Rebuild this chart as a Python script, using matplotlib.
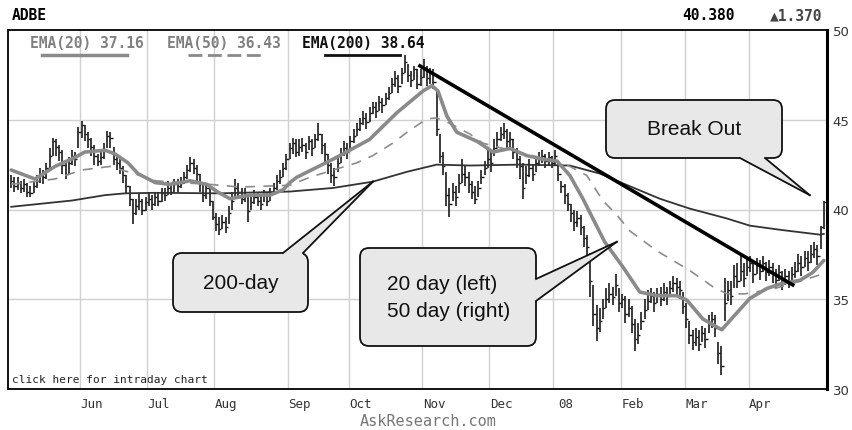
import matplotlib
matplotlib.use("Agg")
import matplotlib.pyplot as plt
from matplotlib.lines import Line2D
from matplotlib.patches import FancyBboxPatch, Polygon
from matplotlib.transforms import IdentityTransform

# ADBE daily bars, May 2007 - Apr 2008, one value per trading day
hi = [41.9, 41.8, 41.8, 41.6, 41.7, 41.5, 41.3, 41.6, 41.9, 42.3,
      42.2, 42.6, 43.4, 44.0, 43.9, 43.6, 43.3, 42.6, 42.9, 43.3,
      43.2, 44.6, 44.95, 44.7, 44.3, 44.0, 43.6, 43.1, 43.3, 43.7,
      44.4, 44.3, 43.5, 43.0, 42.8, 42.4, 41.9, 41.3, 40.6, 40.6,
      40.9, 40.6, 40.7, 41.0, 40.8, 41.0, 41.0, 41.2, 41.2, 41.6,
      41.4, 41.7, 41.7, 41.8, 42.1, 42.5, 42.9, 42.8, 42.5, 42.0,
      41.5, 41.5, 41.3, 40.5, 39.8, 39.6, 39.7, 39.6, 40.2, 41.0,
      41.7, 41.5, 41.2, 41.2, 40.7, 40.8, 41.1, 41.0, 40.8, 41.1,
      41.0, 41.2, 41.5, 41.9, 42.2, 42.6, 43.1, 43.7, 44.0, 43.9,
      43.9, 44.0, 43.7, 44.1, 43.9, 44.2, 44.8, 44.2, 43.7, 43.1,
      42.6, 42.3, 42.9, 43.4, 43.8, 43.7, 44.1, 44.5, 44.8, 45.1,
      45.5, 45.4, 45.7, 46.0, 46.0, 46.3, 46.2, 46.5, 46.8, 47.3,
      47.7, 47.5, 47.9, 48.6, 48.1, 47.7, 48.0, 47.8, 47.8, 48.4,
      48.0, 47.9, 47.8, 46.6, 44.2, 43.2, 42.1, 41.2, 41.5, 41.3,
      42.0, 42.8, 42.4, 42.1, 41.6, 41.3, 41.6, 42.2, 42.7, 43.3,
      43.2, 43.9, 44.3, 44.6, 44.8, 44.5, 44.3, 43.9, 43.4, 43.0,
      42.6, 42.4, 42.8, 42.5, 43.0, 43.2, 43.3, 43.1, 43.2, 43.0,
      43.3, 42.6, 41.6, 41.4, 40.9, 40.3, 40.0, 39.9, 39.7, 39.1,
      38.6, 37.6, 35.8, 34.7, 34.5, 35.0, 35.6, 35.9, 35.7, 36.4,
      35.6, 35.3, 35.2, 35.0, 34.6, 33.9, 33.7, 34.3, 35.0, 35.5,
      35.6, 35.4, 35.6, 35.7, 35.9, 35.7, 36.0, 36.3, 36.2, 36.0,
      35.4, 34.8, 33.8, 33.3, 33.4, 33.3, 33.5, 33.4, 34.1, 34.3,
      34.1, 32.6, 32.4, 36.2, 36.0, 36.0, 36.9, 37.0, 37.4, 37.0,
      37.3, 37.4, 37.2, 37.3, 37.2, 37.4, 37.1, 37.2, 37.0, 36.7,
      36.9, 36.6, 36.7, 36.6, 36.8, 37.1, 37.5, 37.4, 37.7, 37.7,
      38.0, 38.2, 38.0, 39.1, 40.5]
lo = [41.2, 41.0, 41.1, 40.9, 41.0, 40.7, 40.7, 40.9, 41.2, 41.5,
      41.4, 41.7, 42.3, 43.0, 43.0, 42.7, 42.0, 41.7, 42.0, 42.5,
      42.4, 43.4, 44.0, 43.8, 43.4, 43.0, 42.5, 42.4, 42.5, 42.8,
      43.4, 43.4, 42.5, 42.2, 42.0, 41.5, 40.9, 40.2, 39.2, 39.7,
      40.0, 39.7, 39.9, 40.2, 40.0, 40.2, 40.2, 40.4, 40.5, 40.8,
      40.8, 41.0, 41.0, 41.2, 41.4, 41.7, 42.1, 42.0, 41.6, 41.0,
      40.4, 40.6, 40.2, 39.4, 38.8, 38.6, 38.9, 38.7, 39.2, 40.0,
      40.6, 40.6, 40.3, 40.4, 39.3, 40.0, 40.3, 40.2, 40.0, 40.4,
      40.2, 40.5, 40.9, 41.1, 41.4, 41.8, 42.2, 42.8, 43.1, 42.9,
      43.0, 43.2, 42.8, 43.3, 43.0, 43.4, 43.8, 43.1, 42.6, 42.0,
      41.5, 41.3, 42.1, 42.6, 43.0, 42.8, 43.3, 43.7, 44.1, 44.4,
      44.7, 44.5, 44.9, 45.3, 45.1, 45.5, 45.4, 45.8, 46.1, 46.5,
      46.8, 46.5, 47.0, 47.6, 47.1, 46.8, 47.2, 46.7, 46.9, 47.3,
      46.9, 47.0, 46.7, 44.1, 42.6, 41.9, 40.2, 39.6, 40.5, 40.2,
      40.9, 41.5, 41.3, 40.9, 40.6, 40.3, 40.7, 41.4, 41.9, 42.3,
      42.1, 43.0, 43.4, 43.8, 43.9, 43.3, 43.5, 42.8, 42.3, 41.7,
      40.6, 41.4, 41.8, 41.6, 42.1, 42.4, 42.6, 42.3, 42.5, 42.3,
      42.5, 41.6, 40.9, 40.3, 39.9, 39.3, 38.8, 39.0, 38.6, 37.9,
      37.4, 35.1, 33.5, 32.7, 33.2, 33.9, 34.5, 34.8, 34.7, 35.2,
      34.3, 34.5, 33.7, 34.0, 33.1, 32.1, 32.5, 33.3, 33.9, 34.4,
      34.8, 34.3, 34.8, 34.6, 34.9, 34.7, 35.1, 35.4, 35.2, 35.0,
      34.2, 33.4, 32.5, 32.2, 32.4, 32.1, 32.6, 32.3, 33.1, 33.4,
      32.9, 31.4, 30.8, 33.8, 34.9, 34.7, 35.6, 35.6, 36.0, 35.7,
      36.3, 36.5, 35.9, 36.4, 36.1, 36.5, 36.0, 36.3, 35.9, 35.6,
      36.0, 35.5, 35.8, 35.6, 35.9, 36.2, 36.5, 36.3, 36.8, 36.6,
      37.0, 37.3, 36.9, 37.8, 38.9]
cl = [41.6, 41.3, 41.5, 41.2, 41.4, 41.0, 40.9, 41.3, 41.6, 42.0,
      41.8, 42.3, 43.0, 43.8, 43.5, 43.2, 42.5, 42.0, 42.6, 43.0,
      42.8, 44.3, 44.7, 44.2, 43.9, 43.5, 43.0, 42.7, 42.9, 43.3,
      44.1, 44.0, 42.8, 42.6, 42.3, 41.9, 41.3, 40.6, 39.8, 40.2,
      40.5, 40.0, 40.4, 40.6, 40.3, 40.7, 40.5, 40.9, 40.8, 41.2,
      41.0, 41.4, 41.3, 41.5, 41.8, 42.2, 42.6, 42.3, 42.0, 41.4,
      40.8, 41.2, 40.5, 39.6, 39.2, 38.9, 39.3, 39.0, 39.8, 40.5,
      41.2, 41.0, 40.6, 40.8, 39.9, 40.4, 40.7, 40.5, 40.3, 40.8,
      40.5, 40.9, 41.2, 41.6, 41.8, 42.3, 42.8, 43.4, 43.7, 43.2,
      43.5, 43.6, 43.2, 43.8, 43.4, 43.9, 44.2, 43.6, 43.1, 42.5,
      41.9, 41.8, 42.6, 43.1, 43.4, 43.2, 43.8, 44.1, 44.5, 44.8,
      45.1, 44.9, 45.4, 45.7, 45.5, 46.0, 45.8, 46.2, 46.5, 47.0,
      47.3, 46.9, 47.6, 48.2, 47.5, 47.2, 47.8, 47.0, 47.4, 47.9,
      47.3, 47.6, 47.1, 44.5, 43.0, 42.4, 40.8, 40.3, 41.0, 40.7,
      41.5, 42.0, 41.8, 41.4, 41.0, 40.6, 41.2, 41.8, 42.3, 42.8,
      42.6, 43.4, 43.9, 44.2, 44.4, 43.8, 43.9, 43.2, 42.8, 42.4,
      41.2, 41.9, 42.3, 42.0, 42.6, 42.8, 43.0, 42.7, 42.9, 42.6,
      43.0, 42.0, 41.3, 40.8, 40.3, 39.8, 39.3, 39.5, 39.0, 38.4,
      37.9, 36.0, 34.2, 33.4, 33.8, 34.5, 35.0, 35.3, 35.1, 35.8,
      34.8, 35.0, 34.2, 34.5, 33.6, 32.8, 33.0, 33.8, 34.4, 34.9,
      35.2, 34.8, 35.3, 35.0, 35.4, 35.2, 35.6, 35.9, 35.7, 35.5,
      34.6, 33.9, 33.0, 32.6, 32.9, 32.5, 33.1, 32.8, 33.6, 33.9,
      33.4, 32.0, 31.3, 34.8, 35.5, 35.2, 36.3, 36.0, 36.6, 36.2,
      36.8, 37.0, 36.4, 36.9, 36.6, 37.0, 36.5, 36.8, 36.4, 36.1,
      36.5, 35.9, 36.3, 36.0, 36.4, 36.6, 37.0, 36.8, 37.3, 37.1,
      37.5, 37.8, 37.4, 39.0, 40.4]
assert len(hi) == len(lo) == len(cl)
assert all(h >= c >= l for h, c, l in zip(hi, cl, lo))

months = ["Jun", "Jul", "Aug", "Sep", "Oct", "Nov", "Dec", "08", "Feb", "Mar", "Apr"]
month_start = [22, 43, 64, 87, 106, 129, 150, 170, 191, 211, 231]
price_ticks = [30, 35, 40, 45, 50]

# moving averages, sampled along the drawn curves (day index, price)
ema20_day = [0, 7.4, 13.7, 19.9, 23, 29.3, 32.4, 36.5, 39.6, 45,
             49.6, 55.9, 61.2, 64.3, 68.4, 74.6, 80.9, 85, 87.1, 89.3,
             100.6, 112, 120.6, 128.7, 131.5, 133.4, 136.2, 139.3, 145.6, 150.6,
             155.9, 161.2, 166.2, 170.6, 174.6, 178.7, 181.8, 185.5, 191.2, 196.5,
             201.8, 208, 211.2, 216.2, 222.1, 225.6, 230.9, 236.2, 241.2, 246.5,
             250.6, 254]
ema20_val = [42.2, 41.7, 42.4, 42.9, 43.2, 43.3, 43.1, 42.6, 42.0, 41.5,
             41.4, 41.6, 41.4, 41.0, 40.6, 40.8, 40.8, 41.1, 41.5, 41.8,
             42.8, 43.9, 45.4, 46.6, 46.9, 46.6, 45.2, 44.3, 43.8, 43.2,
             43.4, 43.0, 42.8, 42.7, 41.9, 40.6, 39.5, 38.2, 36.8, 35.4,
             35.2, 35.2, 34.95, 33.9, 33.3, 34.0, 35.05, 35.6, 35.9, 36.05,
             36.5, 37.16]
ema50_day = [0, 13.7, 22.1, 30.9, 40.25, 45, 52.75, 62.1, 71.5, 87.1,
             93.4, 108, 113, 119.3, 123.7, 129.9, 133, 137.1, 143.4, 147.4,
             155.9, 165.25, 170.6, 174.6, 179.9, 184.9, 189.3, 193.4, 201.8, 212.1,
             219.3, 223.7, 229.3, 238.7, 246.5, 254]
ema50_val = [41.4, 41.7, 42.2, 42.4, 41.9, 41.6, 41.5, 41.4, 41.25, 41.35,
             41.8, 42.6, 43.0, 43.7, 44.3, 45.05, 45.1, 44.8, 44.2, 43.7,
             43.3, 42.9, 42.7, 42.4, 41.9, 40.5, 39.7, 38.8, 37.7, 36.6,
             35.7, 35.3, 35.3, 35.6, 36.0, 36.43]
ema200_day = [0, 19, 29.3, 35.6, 45, 65.25, 87.1, 100.6, 113, 123.7,
              133, 143.4, 159, 174.6, 184, 189.3, 202.75, 212.1, 223.7, 230.9,
              241.2, 252.75, 254]
ema200_val = [40.15, 40.5, 40.8, 40.9, 40.93, 40.9, 41.0, 41.2, 41.55, 42.1,
              42.5, 42.45, 42.5, 42.45, 42.0, 41.6, 40.6, 40.05, 39.5, 39.1,
              38.85, 38.6, 38.64]
trend_day = [127.75, 244.3]
trend_val = [48.0, 35.8]

W, H = 853, 431
PX = IdentityTransform()
BOX = "#e8e8e8"
MONO = ["DejaVu Sans Mono", "DejaVu Sans"]


def pt(x, y):
    # image pixel (y down) -> display pixel (y up)
    return x, H - y


fig = plt.figure(figsize=(W / 100, H / 100), dpi=100)
ax = fig.add_axes([8 / W, 1 - 390 / H, 819 / W, 359 / H])

days = list(range(len(cl)))
ax.vlines(days, lo, hi, color="#111111", lw=1.15, zorder=2)
ax.hlines(cl, days, [d + 0.7 for d in days], color="#111111", lw=1.0, zorder=2)
ax.plot(ema200_day, ema200_val, color="#333333", lw=1.3, zorder=3)
ax.plot(ema50_day, ema50_val, color="#8c8c8c", lw=1.2, ls=(0, (6, 5)), zorder=3)
ax.plot(ema20_day, ema20_val, color="#8a8a8a", lw=2.6, zorder=3, solid_capstyle="round")
ax.plot(trend_day, trend_val, color="black", lw=2.6, zorder=4)

ax.set_xlim(-1, 255)
ax.set_ylim(30, 50)
for s in month_start:
    ax.axvline(s - 0.5, color="#d0d0d0", lw=1, zorder=1)
for p in price_ticks[1:-1]:
    ax.axhline(p, color="#d0d0d0", lw=1, zorder=1)
ax.set_xticks([s + 3.2 for s in month_start], months, fontfamily="DejaVu Sans Mono")
ax.tick_params(axis="x", length=0, pad=6, labelsize=9, labelcolor="#333333")
ax.yaxis.tick_right()
ax.set_yticks(price_ticks)
ax.tick_params(axis="y", length=0, pad=4, labelsize=9.5, labelcolor="#333333")
for sp in ax.spines.values():
    sp.set_linewidth(1.3)
ax.spines["right"].set_linewidth(2.2)


def ftext(x, y, s, **kw):
    kw.setdefault("va", "center")
    fig.text(*pt(x, y), s, transform=PX, **kw)


def fline(xs, y, **kw):
    fig.add_artist(Line2D(xs, [H - y, H - y], transform=PX, **kw))


# header and legend
ftext(12, 16, "ADBE", family=MONO, weight="bold", size=10.5)
ftext(682, 16, "40.380", family=MONO, weight="bold", size=10.5)
ftext(770, 16, "\u25b21.370", family=MONO, weight="bold", size=10.5, color="#444444")
ftext(30, 44, "EMA(20) 37.16", family=MONO, weight="bold", size=10.5, color="#808080", zorder=6)
ftext(167, 44, "EMA(50) 36.43", family=MONO, weight="bold", size=10.5, color="#808080", zorder=6)
ftext(302, 44, "EMA(200) 38.64", family=MONO, weight="bold", size=10.5, color="#111111", zorder=6)
fline([42, 127], 56, color="#8a8a8a", lw=2.5, zorder=6)
fline([188, 262], 56, color="#8a8a8a", lw=2, ls=(0, (5, 2)), zorder=6)
fline([325, 400], 56, color="#111111", lw=2, zorder=6)
ftext(12, 380, "click here for intraday chart", family=MONO, size=8, color="#222222")
ftext(428, 422, "AskResearch.com", family=MONO, size=11, color="#777777", ha="center")


def callout(box, side, base, tip, lines, tx, tys, ha):
    x0, y0, x1, y1 = box
    fig.add_artist(FancyBboxPatch(pt(x0, y1), x1 - x0, y1 - y0,
                                  boxstyle="round,pad=0,rounding_size=9",
                                  fc=BOX, ec="#111111", lw=1.3, transform=PX, zorder=10))
    tip_px = ax.transData.transform(tip)
    if side == "bottom":
        a, b = pt(base[0], y1), pt(base[1], y1)
        ai, bi = pt(base[0], y1 - 3), pt(base[1], y1 - 3)
    elif side == "top":
        a, b = pt(base[0], y0), pt(base[1], y0)
        ai, bi = pt(base[0], y0 + 3), pt(base[1], y0 + 3)
    else:
        a, b = pt(x1, base[0]), pt(x1, base[1])
        ai, bi = pt(x1 - 3, base[0]), pt(x1 - 3, base[1])
    fig.add_artist(Polygon([ai, bi, b, tip_px, a], closed=True, fc=BOX, ec="none",
                           transform=PX, zorder=11))
    for e in (a, b):
        fig.add_artist(Line2D([e[0], tip_px[0]], [e[1], tip_px[1]], color="#111111",
                              lw=1.3, transform=PX, zorder=12))
    for s, y in zip(lines, tys):
        ftext(tx, y, s, family=["Liberation Sans", "DejaVu Sans"], size=15,
              color="#111111", ha=ha, zorder=13)


callout((606, 101, 782, 159), "bottom", (740, 765), (249.6, 40.8),
        ["Break Out"], 694, [130], "center")
callout((173, 254, 308, 313), "top", (283, 303), (113.1, 41.56),
        ["200-day"], 241, [284], "center")
callout((360, 249, 536, 347), "right", (280, 302), (189.3, 38.2),
        ["20 day (left)", "50 day (right)"], 387, [285, 312], "left")

fig.savefig("out.png", dpi=100)
